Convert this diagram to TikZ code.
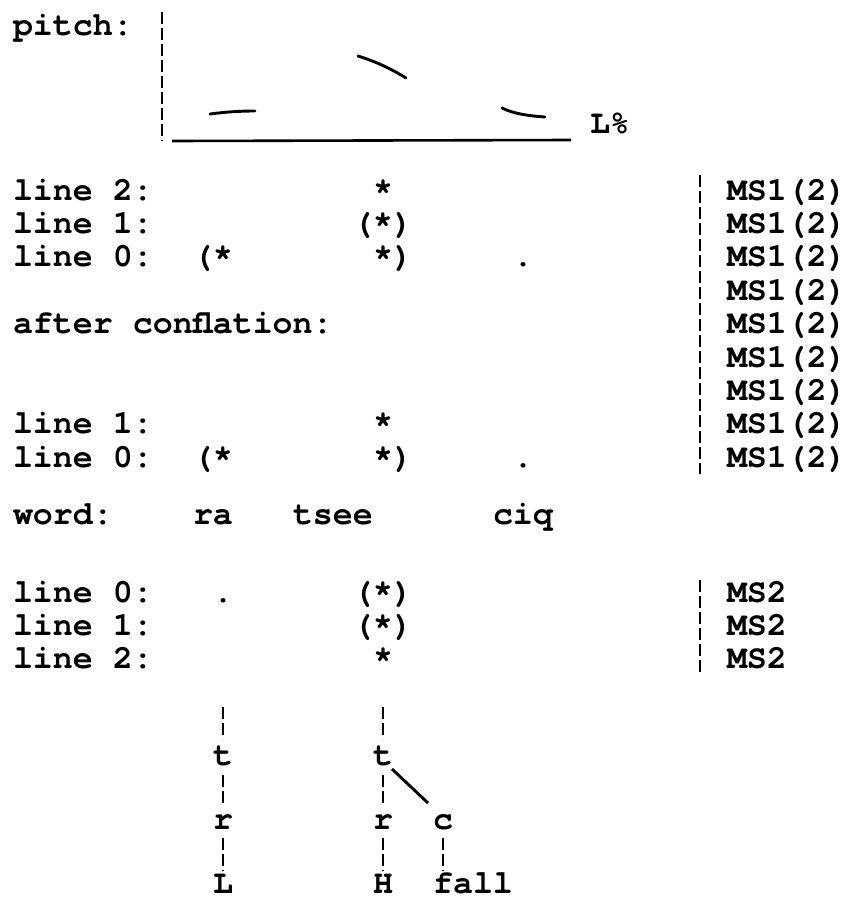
\documentclass[tikz,border=0pt]{standalone}
\usepackage{fontspec}
% Courier-style bold typewriter face on a 20pt character grid
\newfontfamily\courfont{texgyrecursor-bold.otf}
\newcommand\tw[1]{{\courfont\fontsize{33.3}{36}\selectfont #1}}
\tikzset{
  tok/.style={inner sep=0pt, outer sep=0pt, anchor=base west},
  leaf/.style={inner sep=0pt, outer sep=0pt, anchor=base, text height=14pt, text depth=0pt},
  dashline/.style={line width=2.9pt, dash pattern=on 12pt off 4pt},
  solidline/.style={line width=2.9pt, line cap=round},
}
\begin{document}
\begin{tikzpicture}[x=1pt, y=-1pt]
\fill[white] (0,0) rectangle (849,900);
\useasboundingbox (0,0) rectangle (849,900);

% ---------- pitch track ----------
\node[tok] (pitch) at (13,35) {\tw{pitch:}};
\coordinate (yaxtop) at (162,12);
\coordinate (yaxbot) at (162,141);
\draw[dashline] (yaxtop) -- (yaxbot);
\coordinate (xaxl) at (172,141);
\coordinate (xaxr) at (571,140);
\draw[line width=2.6pt] (xaxl) -- (xaxr);
\node[tok] (lpct) at (590,133) {\tw{L\%}};
\draw[solidline] (210,114) .. controls (225,112) and (240,111) .. (255,111);
\draw[solidline] (358,56) .. controls (374,61) and (390,68) .. (406,78);
\draw[solidline] (502,108) .. controls (514,114) and (530,116) .. (545,117);

% ---------- metrical grid, MS1 ----------
\node[tok] (l2a) at (13,200)   {\tw{line 2:}};
\node[tok] (s2a) at (373,200)  {\tw{*}};
\node[tok] (l1a) at (13,233.4) {\tw{line 1:}};
\node[tok] (s1a) at (353,233.4) {\tw{(*)}};
\node[tok] (l0a) at (13,266.8) {\tw{line 0:}};
\node[tok] (o0a) at (193,266.8) {\tw{(*}};
\node[tok] (c0a) at (373,266.8) {\tw{*)}};
\node[tok] (d0a) at (513,266.8) {\tw{.}};
\node[tok] (conf) at (13,333.6) {\tw{after conflation:}};
\node[tok] (l1b) at (13,433.8) {\tw{line 1:}};
\node[tok] (s1b) at (373,433.8) {\tw{*}};
\node[tok] (l0b) at (13,467.2) {\tw{line 0:}};
\node[tok] (o0b) at (193,467.2) {\tw{(*}};
\node[tok] (c0b) at (373,467.2) {\tw{*)}};
\node[tok] (d0b) at (513,467.2) {\tw{.}};

\coordinate (ms1top) at (700,175);
\coordinate (ms1bot) at (700,474);
\draw[dashline] (ms1top) -- (ms1bot);
\foreach \k in {0,...,8}
  \node[tok] (msa\k) at (727,200+33.4*\k) {\tw{MS1(2)}};

% ---------- word and MS2 grid ----------
\node[tok] (word) at (13,524)  {\tw{word:}};
\node[tok] (ra)   at (193,524) {\tw{ra}};
\node[tok] (tsee) at (293,524) {\tw{tsee}};
\node[tok] (ciq)  at (493,524) {\tw{ciq}};

\node[tok] (l0c) at (13,602)  {\tw{line 0:}};
\node[tok] (d0c) at (213,602) {\tw{.}};
\node[tok] (s0c) at (353,602) {\tw{(*)}};
\node[tok] (l1c) at (13,635)  {\tw{line 1:}};
\node[tok] (s1c) at (353,635) {\tw{(*)}};
\node[tok] (l2c) at (13,668)  {\tw{line 2:}};
\node[tok] (s2c) at (373,668) {\tw{*}};

\coordinate (ms2top) at (700,580);
\coordinate (ms2bot) at (700,674);
\draw[dashline] (ms2top) -- (ms2bot);
\foreach \y [count=\i] in {602,635,668}
  \node[tok] (msb\i) at (727,\y) {\tw{MS2}};

% ---------- tone tree ----------
\node[leaf] (tL) at (223,765) {\tw{t}};
\node[leaf] (rL) at (223,829) {\tw{r}};
\node[leaf] (L)  at (223,893) {\tw{L}};
\node[leaf] (tM) at (383,765) {\tw{t}};
\node[leaf] (rM) at (383,829) {\tw{r}};
\node[leaf] (H)  at (383,893) {\tw{H}};
\node[leaf] (c)  at (443,829) {\tw{c}};
\node[leaf] (fall) at (473,893) {\tw{fall}};

\coordinate (ltop) at (223,707);
\coordinate (mtop) at (383,707);
\draw[dashline] (ltop) -- ([yshift=12pt]tL.north);
\draw[dashline] (mtop) -- ([yshift=12pt]tM.north);
\draw[dashline, shorten <=10pt, shorten >=10pt] (tL.south) -- (rL.north);
\draw[dashline, shorten <=10pt, shorten >=10pt] (tM.south) -- (rM.north);
\draw[dashline, shorten <=9pt, shorten >=8pt] (rL.south) -- (L.north);
\draw[dashline, shorten <=9pt, shorten >=8pt] (rM.south) -- (H.north);
\draw[dashline, shorten <=9pt, shorten >=8pt] (c.south) -- (c.south |- fall.north);
\draw[line width=2.9pt] ([xshift=-1pt,yshift=-4pt]tM.south east) -- ([xshift=-5pt,yshift=12pt]c.north west);
\end{tikzpicture}
\end{document}
